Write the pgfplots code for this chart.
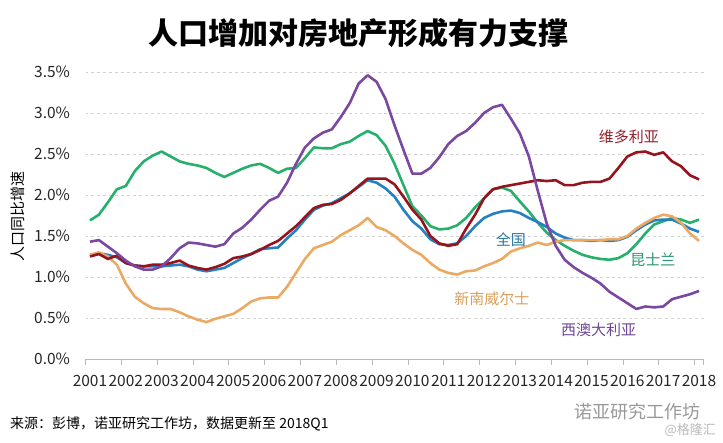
\documentclass[border=0pt]{standalone}
\usepackage{fontspec}
\setmainfont{Noto Sans CJK SC}
\usepackage{pgfplots}
\pgfplotsset{compat=1.18}
\usepackage{pgfplotstable}

\definecolor{cqld}{RGB}{38,176,108}
\definecolor{cwa}{RGB}{122,72,160}
\definecolor{cvic}{RGB}{150,20,30}
\definecolor{cnat}{RGB}{36,128,192}
\definecolor{cnsw}{RGB}{235,170,100}
\definecolor{lvic}{RGB}{150,30,40}
\definecolor{lnat}{RGB}{40,120,160}
\definecolor{lqld}{RGB}{40,150,110}
\definecolor{lnsw}{RGB}{215,160,90}
\definecolor{lwa}{RGB}{110,70,150}

\pgfplotstableread{
x nsw vic qld wa nat
2001.00 1.27 1.25 1.69 1.43 1.27
2001.25 1.30 1.28 1.76 1.45 1.29
2001.50 1.25 1.22 1.91 1.37 1.27
2001.75 1.15 1.26 2.07 1.29 1.24
2002.00 0.92 1.17 2.11 1.20 1.17
2002.25 0.76 1.14 2.29 1.13 1.14
2002.50 0.68 1.13 2.41 1.09 1.13
2002.75 0.62 1.15 2.48 1.09 1.13
2003.00 0.61 1.15 2.53 1.13 1.13
2003.25 0.61 1.17 2.47 1.23 1.14
2003.50 0.57 1.20 2.41 1.35 1.15
2003.75 0.52 1.14 2.38 1.42 1.13
2004.00 0.48 1.11 2.36 1.41 1.09
2004.25 0.45 1.09 2.33 1.39 1.07
2004.50 0.49 1.12 2.27 1.37 1.09
2004.75 0.52 1.16 2.22 1.40 1.11
2005.00 0.55 1.23 2.27 1.53 1.17
2005.25 0.62 1.25 2.32 1.60 1.23
2005.50 0.70 1.28 2.36 1.70 1.28
2005.75 0.74 1.33 2.38 1.82 1.34
2006.00 0.75 1.39 2.33 1.93 1.35
2006.25 0.75 1.44 2.27 1.98 1.36
2006.50 0.88 1.53 2.32 2.15 1.47
2006.75 1.05 1.62 2.33 2.38 1.57
2007.00 1.22 1.73 2.45 2.58 1.70
2007.25 1.35 1.84 2.58 2.69 1.82
2007.50 1.39 1.88 2.57 2.76 1.87
2007.75 1.43 1.89 2.57 2.80 1.90
2008.00 1.51 1.94 2.62 2.95 1.96
2008.25 1.57 2.02 2.65 3.12 2.02
2008.50 1.63 2.11 2.72 3.36 2.10
2008.75 1.72 2.20 2.78 3.46 2.18
2009.00 1.61 2.20 2.73 3.38 2.15
2009.25 1.57 2.20 2.60 3.17 2.08
2009.50 1.50 2.13 2.38 2.85 1.98
2009.75 1.41 1.98 2.12 2.55 1.82
2010.00 1.33 1.82 1.86 2.26 1.68
2010.25 1.27 1.70 1.75 2.26 1.59
2010.50 1.17 1.50 1.62 2.33 1.46
2010.75 1.09 1.41 1.58 2.46 1.40
2011.00 1.05 1.38 1.59 2.62 1.39
2011.25 1.03 1.40 1.63 2.72 1.41
2011.50 1.07 1.59 1.72 2.78 1.50
2011.75 1.08 1.76 1.85 2.88 1.62
2012.00 1.13 1.96 1.96 3.00 1.72
2012.25 1.17 2.07 2.07 3.07 1.77
2012.50 1.22 2.10 2.09 3.10 1.80
2012.75 1.31 2.12 2.05 2.93 1.81
2013.00 1.35 2.14 1.92 2.75 1.78
2013.25 1.38 2.16 1.80 2.47 1.72
2013.50 1.42 2.18 1.66 2.05 1.67
2013.75 1.39 2.17 1.54 1.65 1.61
2014.00 1.43 2.18 1.45 1.38 1.53
2014.25 1.45 2.12 1.38 1.21 1.48
2014.50 1.45 2.12 1.32 1.12 1.45
2014.75 1.45 2.15 1.27 1.05 1.45
2015.00 1.45 2.16 1.24 0.99 1.44
2015.25 1.45 2.16 1.22 0.92 1.45
2015.50 1.46 2.20 1.21 0.82 1.44
2015.75 1.46 2.33 1.23 0.75 1.45
2016.00 1.50 2.47 1.29 0.68 1.49
2016.25 1.59 2.52 1.40 0.61 1.57
2016.50 1.66 2.53 1.53 0.64 1.64
2016.75 1.72 2.49 1.64 0.63 1.69
2017.00 1.76 2.52 1.68 0.64 1.70
2017.25 1.74 2.41 1.72 0.73 1.70
2017.50 1.66 2.35 1.70 0.76 1.65
2017.75 1.53 2.24 1.66 0.79 1.59
2018.00 1.44 2.19 1.70 0.83 1.55
}\datatable

\begin{document}
\begin{tikzpicture}[x=1bp,y=1bp]
\useasboundingbox (0,0) rectangle (723,443);
\begin{axis}[
  at={(85.5bp,84bp)}, anchor=south west,
  scale only axis, width=618bp, height=287bp,
  xmin=2000.875, xmax=2018.125, ymin=0, ymax=3.5,
  axis x line*=bottom, axis y line*=left,
  x axis line style={draw=gray!55, line width=0.8bp, -},
  y axis line style={draw=none},
  ytick={0,0.5,...,3.5},
  yticklabel={\pgfmathprintnumber[fixed,fixed zerofill,precision=1]{\tick}\%},
  ytick style={draw=none},
  ymajorgrids, grid style={dashed, gray!35, line width=0.6bp},
  xtick={2001,...,2018},
  xticklabel style={/pgf/number format/1000 sep={}},
  major x tick style={draw=none},
  extra x ticks={2000.875,2001.875,2002.875,2003.875,2004.875,2005.875,2006.875,2007.875,2008.875,2009.875,2010.875,2011.875,2012.875,2013.875,2014.875,2015.875,2016.875,2017.875,2018.125},
  extra x tick labels={},
  extra x tick style={major tick length=6bp, tick align=outside, major x tick style={draw=gray!55, line width=0.8bp}},
  /pgf/number format/assume math mode=true,
  tick label style={font=\fontsize{15.5bp}{18bp}\selectfont, text=black!85},
  yticklabel style={xshift=-12bp},
  xticklabel style={yshift=-13bp},
  every axis plot/.append style={line width=2.6bp, line join=round, no markers},
  clip=false,
]
\addplot[cqld] table[x=x,y=qld]{\datatable};
\addplot[cnat] table[x=x,y=nat]{\datatable};
\addplot[cnsw] table[x=x,y=nsw]{\datatable};
\addplot[cvic] table[x=x,y=vic]{\datatable};
\addplot[cwa] table[x=x,y=wa]{\datatable};
\node[text=lvic, font=\fontsize{15bp}{18bp}\selectfont] at (axis cs:2016.04,2.71) {维多利亚};
\node[text=lnat, font=\fontsize{15bp}{18bp}\selectfont] at (axis cs:2012.75,1.45) {全国};
\node[text=lqld, font=\fontsize{15bp}{18bp}\selectfont] at (axis cs:2016.71,1.21) {昆士兰};
\node[text=lnsw, font=\fontsize{15bp}{18bp}\selectfont] at (axis cs:2012.22,0.74) {新南威尔士};
\node[text=lwa, font=\fontsize{15bp}{18bp}\selectfont] at (axis cs:2015.2,0.35) {西澳大利亚};
\end{axis}
\node[font=\fontsize{30bp}{36bp}\selectfont\bfseries] at (358,410) {人口增加对房地产形成有力支撑};
\node[rotate=90, font=\fontsize{15bp}{18bp}\selectfont] at (18,226) {人口同比增速};
\node[anchor=west, font=\fontsize{14bp}{17bp}\selectfont, inner sep=0] at (10,19) {来源：彭博，诺亚研究工作坊，数据更新至 2018Q1};
\node[anchor=east, text=gray!80, font=\fontsize{18bp}{21bp}\selectfont, inner sep=0] at (701,31) {诺亚研究工作坊};
\node[anchor=east, text=gray!55, font=\fontsize{13bp}{15bp}\selectfont, inner sep=0] at (716,13) {@格隆汇};
\end{tikzpicture}
\end{document}
